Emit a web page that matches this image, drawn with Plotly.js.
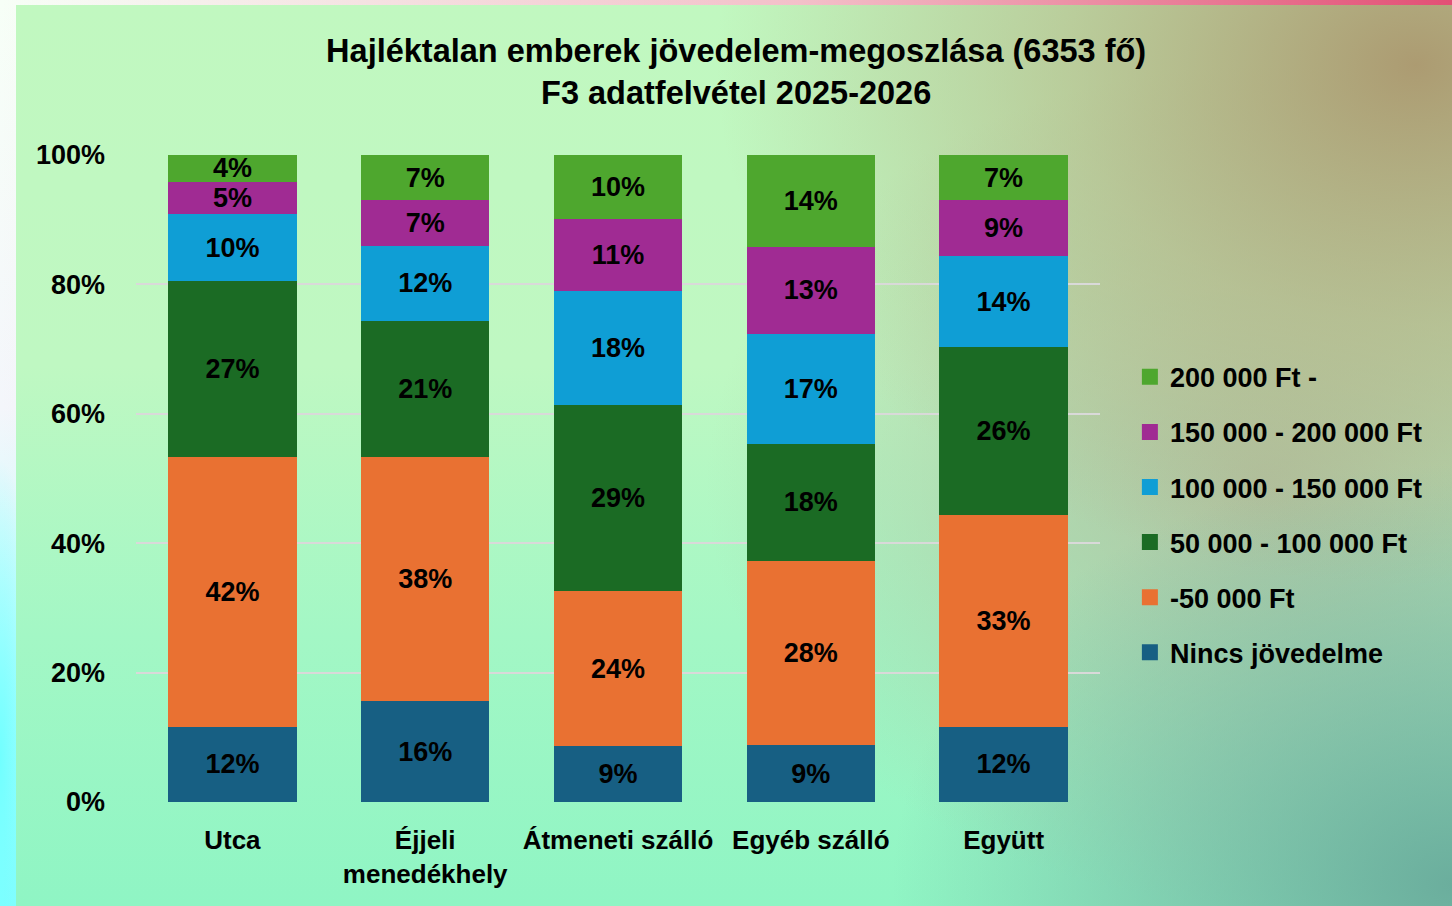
<!DOCTYPE html>
<html>
<head>
<meta charset="utf-8">
<script src="https://cdn.plot.ly/plotly-3.0.1.min.js"></script>
<style>
  html, body { margin: 0; padding: 0; width: 1452px; height: 906px; overflow: hidden; }
  #outer {
    position: absolute; left: 0; top: 0; width: 1452px; height: 906px;
    background:
      radial-gradient(ellipse 40px 300px at 0px 760px, rgba(110,255,255,0.95), rgba(110,255,255,0) 100%),
      linear-gradient(90deg, rgba(240,120,150,0) 0px, rgba(240,150,170,0.6) 800px, rgba(225,70,110,0.95) 1452px),
      linear-gradient(180deg, #f7fff7 0%, #f4f6fb 45%, #c8ffff 70%, #8ff 100%);
  }
  #panel {
    position: absolute; left: 16px; top: 5px; width: 1436px; height: 901px;
    background:
      radial-gradient(ellipse 560px 420px at 1436px 880px, rgba(105,170,155,0.95), rgba(115,175,160,0.55) 50%, rgba(120,180,165,0) 100%),
      radial-gradient(ellipse 700px 520px at 1400px 60px, rgba(170,145,105,0.9), rgba(180,170,125,0.55) 50%, rgba(185,190,140,0) 100%),
      radial-gradient(ellipse 560px 420px at 1250px 480px, rgba(175,185,155,0.85), rgba(175,185,155,0) 100%),
      linear-gradient(180deg, #c1f8c0 0%, #bff8c2 40%, #a3f7c5 70%, #8ff5c4 100%);
  }
  #chart { position: absolute; left: 0; top: 0; width: 1452px; height: 906px; }
</style>
</head>
<body>
<div id="outer"><div id="panel"></div></div>
<div id="chart"></div>
<script>
const categories = ["Utca", "Éjjeli<br>menedékhely", "Átmeneti szálló", "Egyéb szálló", "Együtt"];
const seriesNames = ["Nincs jövedelme", "-50 000 Ft", "50 000 - 100 000 Ft", "100 000 - 150 000 Ft", "150 000 - 200 000 Ft", "200 000 Ft -"];
const nincs      = [11.6, 15.6,  8.6,  8.8, 11.6];
const upTo50k    = [41.8, 37.7, 24.0, 28.4, 32.8];
const k50to100   = [27.1, 21.1, 28.8, 18.2, 25.9];
const k100to150  = [10.4, 11.6, 17.6, 17.0, 14.1];
const k150to200  = [ 5.0,  7.0, 11.1, 13.4,  8.6];
const over200k   = [ 4.1,  7.0,  9.9, 14.2,  7.0];
const seriesValues = [nincs, upTo50k, k50to100, k100to150, k150to200, over200k];
const seriesColors = ["#175f83", "#e97132", "#1b6b24", "#0f9ed5", "#a02b93", "#4ea72e"];
const yTicks = [0, 20, 40, 60, 80, 100];
const yTickLabels = ["0%", "20%", "40%", "60%", "80%", "100%"];

const FONT = "Liberation Sans, Arial, sans-serif";

const barTraces = seriesNames.map((name, i) => ({
  type: "bar",
  name: name,
  legendgroup: "g" + i,
  showlegend: false,
  x: categories,
  y: seriesValues[i],
  marker: { color: seriesColors[i], line: { width: 0 } },
  texttemplate: "%{y:.0f}%",
  textposition: "inside",
  insidetextanchor: "middle",
  textangle: 0,
  textfont: { family: FONT, size: 27, color: "#000000", weight: 700 },
  constraintext: "none",
  hoverinfo: "skip"
}));

// legend-only entries (square swatches), no data points drawn
const legendTraces = seriesNames.map((name, i) => ({
  type: "scatter",
  mode: "markers",
  name: name,
  legendgroup: "g" + i,
  legendrank: 100 - i,
  x: [null], y: [null],
  marker: { symbol: "square", size: 16, color: seriesColors[i] },
  hoverinfo: "skip"
}));

const layout = {
  width: 1452, height: 906,
  paper_bgcolor: "rgba(0,0,0,0)",
  plot_bgcolor: "rgba(0,0,0,0)",
  barmode: "stack",
  bargap: 0.335,
  margin: { l: 136, r: 352, t: 154.5, b: 104, pad: 0 },
  title: {
    text: "Hajléktalan emberek jövedelem-megoszlása (6353 fő)<br>F3 adatfelvétel 2025-2026",
    font: { family: FONT, size: 32.5, color: "#000000", weight: 700 },
    x: 0.507, xanchor: "center", xref: "container",
    y: 0.932, yanchor: "middle", yref: "container"
  },
  xaxis: {
    type: "category",
    showgrid: false, zeroline: false, showline: false,
    ticks: "",
    tickfont: { family: FONT, size: 26, color: "#000000", weight: 700 },
    ticklabelstandoff: 20
  },
  yaxis: {
    range: [0, 100],
    tickvals: yTicks, ticktext: yTickLabels,
    showgrid: true, gridcolor: "#d9d9d9", gridwidth: 2,
    zeroline: false, showline: false,
    ticks: "",
    tickfont: { family: FONT, size: 27, color: "#000000", weight: 700 },
    ticklabelstandoff: 30
  },
  legend: {
    traceorder: "grouped",
    x: 1.031, xanchor: "left", y: 0.444, yanchor: "middle",
    font: { family: FONT, size: 27, color: "#000000", weight: 700 },
    bgcolor: "rgba(0,0,0,0)",
    itemwidth: 30,
    tracegroupgap: 17
  },
  showlegend: true
};

Plotly.newPlot("chart", barTraces.concat(legendTraces), layout, { displayModeBar: false, staticPlot: true });
</script>
</body>
</html>
